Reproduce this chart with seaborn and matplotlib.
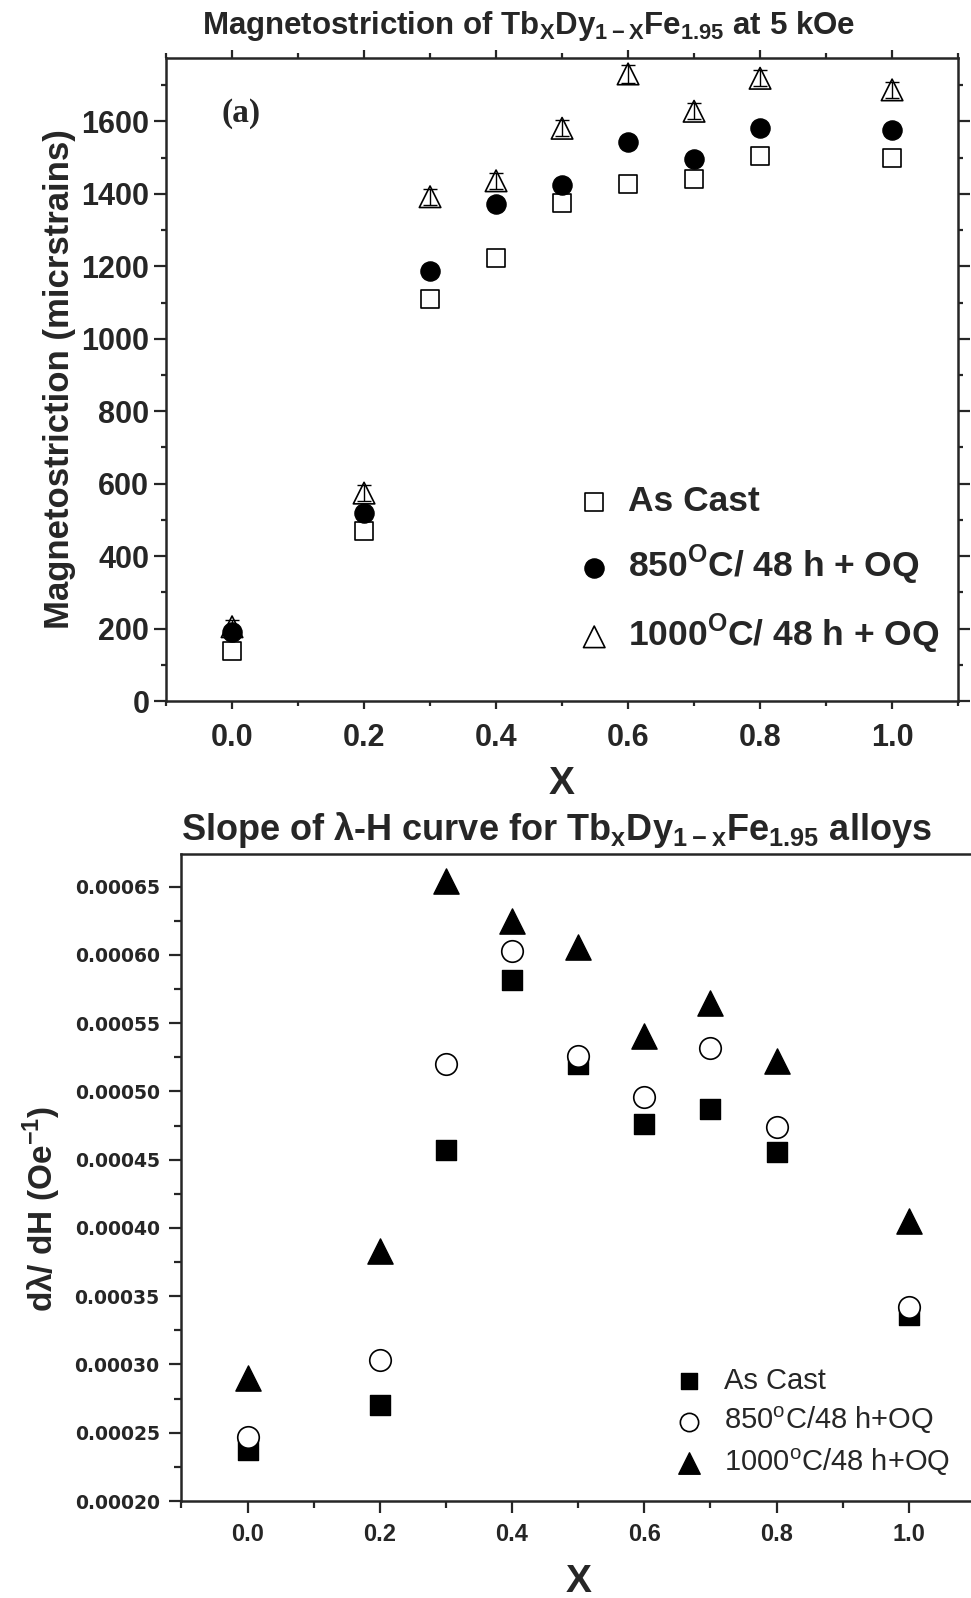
import matplotlib
matplotlib.use('Agg')
import matplotlib.pyplot as plt
from matplotlib.ticker import MultipleLocator
import pandas as pd
import seaborn as sns

# composition x
x_top = [0.0, 0.2, 0.3, 0.4, 0.5, 0.6, 0.7, 0.8, 1.0]
x_bot = [0.0, 0.2, 0.3, 0.4, 0.5, 0.6, 0.7, 0.8, 1.0]

# (a) magnetostriction at 5 kOe (microstrains)
ms_as_cast = [138, 469, 1109, 1222, 1374, 1426, 1440, 1504, 1499]
ms_850 = [191, 520, 1188, 1372, 1424, 1544, 1495, 1581, 1575]
ms_1000 = [205, 574, 1392, 1436, 1581, 1731, 1628, 1719, 1687]
ms_1000_err = [20, 22, 22, 22, 22, 24, 22, 22, 22]

# (b) slope d(lambda)/dH (1/Oe)
sl_as_cast = [0.000237, 0.000270, 0.000457, 0.000582, 0.000520, 0.000476, 0.000487, 0.000456, 0.000336]
sl_850 = [0.000247, 0.000303, 0.000520, 0.000603, 0.000526, 0.000496, 0.000532, 0.000474, 0.000342]
sl_1000 = [0.000290, 0.000383, 0.000654, 0.000625, 0.000606, 0.000541, 0.000565, 0.000522, 0.000405]

top_labels = ['As Cast', '850$^\\mathregular{O}$C/ 48 h + OQ', '1000$^\\mathregular{O}$C/ 48 h + OQ']
bot_labels = ['As Cast', '850$^\\mathregular{o}$C/48 h+OQ', '1000$^\\mathregular{o}$C/48 h+OQ']
bot_yticks = [0.0002, 0.00025, 0.0003, 0.00035, 0.0004, 0.00045, 0.0005, 0.00055, 0.0006, 0.00065]

sns.set_style('ticks')
plt.rcParams['font.family'] = ['Liberation Sans', 'DejaVu Sans']

top = pd.DataFrame({'x': x_top, 'as_cast': ms_as_cast, 'q850': ms_850, 'q1000': ms_1000})
bot = pd.DataFrame({'x': x_bot, 'as_cast': sl_as_cast, 'q850': sl_850, 'q1000': sl_1000})

fig = plt.figure(figsize=(9.71, 15.98), dpi=100)
ax1 = fig.add_axes([0.171, 0.5613, 0.8157, 0.4024])
ax2 = fig.add_axes([0.1868, 0.0607, 0.8173, 0.4049])

# ---- top panel
ax1.errorbar(top['x'], top['q1000'], yerr=ms_1000_err, fmt='none', ecolor='black',
             elinewidth=1, capsize=5, capthick=1, zorder=2)
sns.scatterplot(data=top, x='x', y='as_cast', ax=ax1, marker='s', s=150,
                facecolor='white', edgecolor='black', linewidth=1.2, label=top_labels[0], zorder=3)
sns.scatterplot(data=top, x='x', y='q850', ax=ax1, marker='o', s=190,
                color='black', edgecolor='black', linewidth=1, label=top_labels[1], zorder=3)
sns.scatterplot(data=top, x='x', y='q1000', ax=ax1, marker='^', s=240,
                facecolor='none', edgecolor='black', linewidth=1.2, label=top_labels[2], zorder=4)

ax1.set_xlim(-0.1, 1.1)
ax1.set_ylim(0, 1775)
ax1.xaxis.set_minor_locator(MultipleLocator(0.1))
ax1.yaxis.set_major_locator(MultipleLocator(200))
ax1.yaxis.set_minor_locator(MultipleLocator(100))
ax1.tick_params(which='both', direction='out', top=True, right=True, width=1.6)
ax1.tick_params(axis='y', which='major', length=8.5, labelsize=22)
ax1.tick_params(axis='x', which='major', length=6, pad=10)
ax1.tick_params(which='minor', length=3.5)
for lab in ax1.get_yticklabels():
    lab.set_fontweight('bold')
ax1.set_xticks([0.0, 0.2, 0.4, 0.6, 0.8, 1.0])
ax1.set_xticklabels(['0.0', '0.2', '0.4', '0.6', '0.8', '1.0'], fontweight='bold', fontsize=22)
for sp in ax1.spines.values():
    sp.set_visible(True)
    sp.set_linewidth(1.8)
ax1.set_xlabel('X', fontsize=28, fontweight='bold', labelpad=9)
ax1.set_ylabel('Magnetostriction (micrstrains)', fontsize=25, fontweight='bold', labelpad=4)
ax1.set_title('Magnetostriction of Tb$_\\mathregular{X}$Dy$_\\mathregular{1-X}$Fe$_\\mathregular{1.95}$ at 5 kOe',
              fontsize=22.5, fontweight='bold', pad=17, x=0.458)
ax1.text(0.095, 0.913, '(a)', transform=ax1.transAxes, family=['Liberation Serif'],
         fontsize=24, fontweight='bold', ha='center', va='center')
ax1.legend(loc='upper left', bbox_to_anchor=(0.478, 0.385), frameon=False,
           prop={'weight': 'bold', 'size': 25.5}, handlelength=1.0, handletextpad=0.45,
           labelspacing=0.7, markerscale=1.0)

# ---- bottom panel
sns.scatterplot(data=bot, x='x', y='as_cast', ax=ax2, marker='s', s=190,
                color='black', edgecolor='black', linewidth=1, label=bot_labels[0], zorder=3)
sns.scatterplot(data=bot, x='x', y='q850', ax=ax2, marker='o', s=240,
                facecolor='white', edgecolor='black', linewidth=1.2, label=bot_labels[1], zorder=3)
sns.scatterplot(data=bot, x='x', y='q1000', ax=ax2, marker='^', s=330,
                color='black', edgecolor='black', linewidth=1, label=bot_labels[2], zorder=3)

ax2.set_xlim(-0.1, 1.1)
ax2.set_ylim(0.0002, 0.000674)
ax2.xaxis.set_minor_locator(MultipleLocator(0.1))
ax2.yaxis.set_minor_locator(MultipleLocator(0.000025))
ax2.tick_params(which='both', direction='out', width=1.6)
ax2.tick_params(which='major', length=8.6)
ax2.tick_params(which='minor', length=5)
ax2.tick_params(axis='y', which='major', pad=7)
ax2.tick_params(axis='x', which='major', pad=7)
ax2.set_xticks([0.0, 0.2, 0.4, 0.6, 0.8, 1.0])
ax2.set_xticklabels(['0.0', '0.2', '0.4', '0.6', '0.8', '1.0'],
                    fontweight='bold', fontsize=17)
ax2.set_yticks(bot_yticks)
ax2.set_yticklabels([f'{v:.5f}' for v in bot_yticks], family=['DejaVu Sans'],
                    fontweight='bold', fontsize=13.5)
ax2.spines['right'].set_visible(False)
for sp in ['left', 'bottom', 'top']:
    ax2.spines[sp].set_linewidth(1.8)
ax2.set_xlabel('X', fontsize=28, fontweight='bold', labelpad=13)
ax2.set_ylabel('dλ/ dH (Oe$^\\mathregular{-1}$)', fontsize=24,
               fontweight='bold', labelpad=8, y=0.452)
ax2.set_title('Slope of λ-H curve for Tb$_\\mathregular{x}$Dy$_\\mathregular{1-x}$Fe$_\\mathregular{1.95}$ alloys',
              fontsize=26, fontweight='bold', pad=10, x=0.472)
ax2.legend(loc='upper left', bbox_to_anchor=(0.581, 0.248), frameon=False,
           prop={'size': 21}, handlelength=1.4, handletextpad=0.5, labelspacing=0.35,
           markerscale=0.85)

fig.savefig('out.png', dpi=100)
